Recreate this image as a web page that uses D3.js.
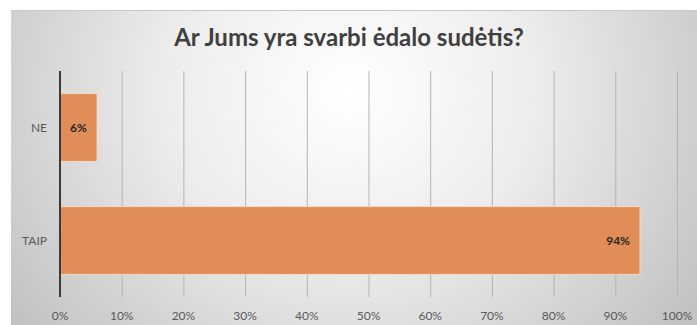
<!DOCTYPE html>
<html>
<head>
<meta charset="utf-8">
<script src="https://cdn.jsdelivr.net/npm/d3@7"></script>
<style>
  body { margin: 0; background: #fff; }
  svg { display: block; }
</style>
</head>
<body>
<div id="viz"></div>
<script>
// chart values
var title = "Ar Jums yra svarbi ėdalo sudėtis?";
var categories = ["NE", "TAIP"];
var values = [6, 94];
var ticks = [0, 10, 20, 30, 40, 50, 60, 70, 80, 90, 100];

var width = 697,
    height = 325;
var margin = ({top: 71, right: 20, bottom: 28, left: 60});

var svg = d3.select('#viz')
  .append('svg')
  .attr('width', width)
  .attr('height', height);

// background gradient like the office chart
var defs = svg.append("defs");
var grad = defs.append("radialGradient")
  .attr("id", "bg")
  .attr("gradientUnits", "userSpaceOnUse")
  .attr("cx", 350).attr("cy", 90)
  .attr("r", 420)
  .attr("gradientTransform", "translate(350,90) scale(1,0.9) translate(-350,-90)");
grad.append("stop").attr("offset", "0%").attr("stop-color", "#ffffff");
grad.append("stop").attr("offset", "45%").attr("stop-color", "#ececec");
grad.append("stop").attr("offset", "100%").attr("stop-color", "#c2c2c2");

svg.append("rect")
  .attr("x", 11).attr("y", 10)
  .attr("width", width - 11).attr("height", height - 10)
  .attr("fill", "url(#bg)");
svg.append("line")
  .attr("x1", 11).attr("x2", width)
  .attr("y1", 10.5).attr("y2", 10.5)
  .attr("stroke", "#c8c8c8");

var x = d3.scaleLinear()
  .domain([0, 100])
  .range([margin.left, width - margin.right]);

var y = d3.scaleBand()
  .domain(categories)
  .range([margin.top, height - margin.bottom])
  .paddingInner(0.4)
  .paddingOuter(0.2);

// gridlines
svg.append("g")
  .selectAll("line")
  .data(ticks.slice(1))
  .join("line")
  .attr("x1", d => x(d) + 0.5)
  .attr("x2", d => x(d) + 0.5)
  .attr("y1", margin.top)
  .attr("y2", height - margin.bottom)
  .attr("stroke", "#b4b4b4")
  .attr("stroke-width", 1);

// bars
svg.append("g")
  .selectAll("rect")
  .data(values)
  .join("rect")
  .attr("x", x(0))
  .attr("y", (d, i) => y(categories[i]))
  .attr("width", d => x(d) - x(0))
  .attr("height", y.bandwidth())
  .attr("fill", "#e08d57")
  .attr("stroke", "#f6d7c2")
  .attr("stroke-width", 1);

// value labels
svg.append("g")
  .selectAll("text")
  .data(values)
  .join("text")
  .attr("x", (d, i) => i == 0 ? (x(0) + x(d)) / 2 : x(d) - 10)
  .attr("y", (d, i) => y(categories[i]) + y.bandwidth() / 2)
  .attr("dy", "0.35em")
  .attr("text-anchor", (d, i) => i == 0 ? "middle" : "end")
  .attr("font-family", "Lato, 'Open Sans', sans-serif")
  .attr("font-weight", "bold")
  .attr("font-size", 12)
  .attr("fill", "#262626")
  .text(d => d + "%");

// y axis line
svg.append("line")
  .attr("x1", x(0)).attr("x2", x(0))
  .attr("y1", margin.top)
  .attr("y2", height - margin.bottom)
  .attr("stroke", "#3a3a3a")
  .attr("stroke-width", 2);

// category labels
svg.append("g")
  .selectAll("text")
  .data(categories)
  .join("text")
  .attr("x", 47)
  .attr("y", d => y(d) + y.bandwidth() / 2)
  .attr("dy", "0.35em")
  .attr("text-anchor", "end")
  .attr("font-family", "Lato, 'Open Sans', sans-serif")
  .attr("font-size", 12)
  .attr("fill", "#595959")
  .text(d => d);

// x tick labels
svg.append("g")
  .selectAll("text")
  .data(ticks)
  .join("text")
  .attr("x", d => x(d))
  .attr("y", 316)
  .attr("dy", "0.35em")
  .attr("text-anchor", "middle")
  .attr("font-family", "Lato, 'Open Sans', sans-serif")
  .attr("font-size", 12)
  .attr("fill", "#595959")
  .text(d => d + "%");

// title
svg.append("text")
  .attr("x", 349)
  .attr("y", 46)
  .attr("text-anchor", "middle")
  .attr("font-family", "Lato, 'Open Sans', sans-serif")
  .attr("font-weight", "bold")
  .attr("font-size", 24)
  .attr("fill", "#404040")
  .text(title);
</script>
</body>
</html>
